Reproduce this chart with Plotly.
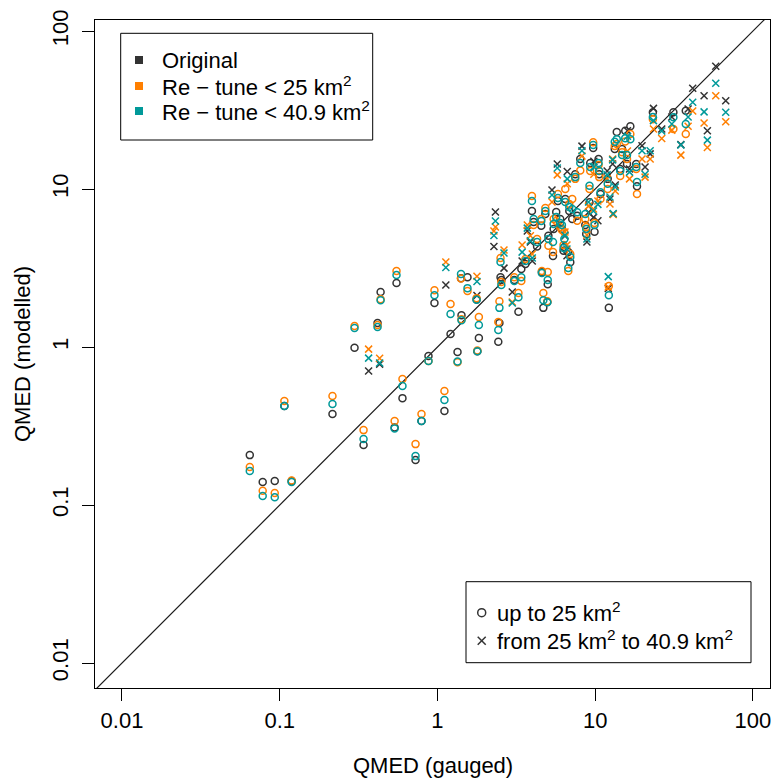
import plotly.graph_objects as go

# QMED (m3/s) per catchment: gauged value and three modelled estimates
gauged = [
    0.0646, 0.078, 0.093, 0.119, 0.107, 0.216, 0.34, 0.298, 0.436, 0.417,
    0.366, 0.43, 0.55, 0.6, 0.726, 0.535, 0.792, 1.107, 0.877, 0.957,
    1.13, 1.21, 1.42, 1.34, 1.41, 1.55, 1.78, 1.77, 1.83, 1.79,
    2.33, 2.28, 2.64, 2.51, 2.54, 2.47, 2.43, 2.98, 3.26, 4.69, 4.97,
    3.44, 3.40, 3.07, 4.59, 5.0, 5.40, 3.97, 4.07, 3.88, 3.99, 3.61,
    5.32, 5.75, 6.65,
    8.24, 8.04, 9.71, 9.8, 10.5, 10.6, 11.9,
    9.30, 6.46, 5.8, 6.85, 7.15, 6.0, 8.86, 8.77, 9.9, 6.43, 6.75, 6.37,
    13.0, 12.1, 12.2, 10.4, 9.07, 7.69, 8.65, 12.4, 13.4,
    13.7, 13.3, 12.9, 14.8, 16.0, 16.7, 15.9, 16.5, 18.4, 18.2, 19.8, 22.3, 20.7, 14.4, 12.0,
    23.4, 23.2, 26.4, 31.3, 37.5, 34.9, 41.5, 30.6, 38.8,
    58.1, 49.0, 67.2, 51.4,
    4.55, 5.45, 6.15, 5.05, 4.28, 6.30, 6.62, 6.95, 9.75,
    15.5, 9.2, 10.8, 7.47, 4.83, 5.66, 3.71,
]

qmed_original = [
    0.207, 0.14, 0.142, 0.142, 0.423, 0.377, 0.24, 0.99, 2.23, 1.42,
    0.705, 0.78, 2.54, 0.475, 0.193, 0.31, 0.34, 0.394, 0.877, 1.90,
    2.47, 1.21, 1.59, 0.93, 2.73, 2.77, 2.12, 2.00, 1.14, 0.94,
    7.15, 4.33, 3.16, 2.77, 2.66, 1.42, 1.08, 2.23, 1.67, 1.77, 1.93,
    3.50, 3.12, 2.66, 2.98, 2.50, 3.77, 7.26, 6.18, 4.62, 3.50, 3.35,
    9.86, 14.4, 12.9,
    18.7, 15.5, 18.2, 15.0, 15.5, 12.4, 13.0,
    14.6, 8.65, 8.40, 7.26, 6.46, 6.46, 4.62, 5.19, 5.37, 5.04, 3.99, 4.30,
    6.95, 2.35, 1.77, 6.3, 7.12, 6.78, 5.92, 8.65, 10.6,
    23.0, 17.9, 14.4, 17.9, 23.4, 25.0, 14.4, 13.4, 10.4, 14.4, 18.8, 16.7, 13.8, 13.4, 11.6,
    32.4, 30.6, 24.0, 30.6, 31.3, 19.1, 43.4, 28.6, 32.1,
    59.8, 39.0, 36.2, 23.4,
    5.86, 5.58, 5.58, 5.06, 4.33, 4.07, 3.78, 3.44, 6.62,
    23.4, 8.24, 9.30, 12.4, 6.95, 7.15, 5.42,
]

qmed_retune_25 = [
    0.174, 0.123, 0.119, 0.143, 0.455, 0.49, 0.298, 1.36, 2.01, 1.38,
    0.97, 0.85, 3.03, 0.627, 0.243, 0.34, 0.377, 0.527, 0.815, 2.29,
    3.45, 1.87, 1.50, 0.80, 2.72, 2.26, 2.81, 2.04, 1.55, 0.95,
    5.75, 5.42, 4.11, 3.66, 2.58, 1.95, 1.44, 1.93, 2.20, 2.20, 1.95,
    4.42, 2.62, 2.77, 3.03, 2.98, 3.99, 9.03, 5.92, 5.06, 3.88, 3.61,
    8.27, 12.3, 10.8,
    16.2, 13.1, 19.8, 12.4, 14.2, 11.9, 11.6,
    13.0, 10.0, 9.30, 8.04, 8.65, 5.75, 5.12, 5.75, 6.10, 5.35, 3.03, 5.35,
    6.9, 2.40, 2.43, 8.4, 7.80, 6.30, 6.46, 8.04, 9.71,
    19.3, 18.7, 15.5, 17.1, 17.4, 22.3, 15.5, 11.6, 9.30, 13.4, 15.5, 15.5, 11.9, 12.1, 10.0,
    24.0, 27.7, 20.9, 24.0, 22.3, 16.4, 31.2, 23.6, 25.0,
    39.0, 26.2, 26.7, 18.3,
    6.46, 6.46, 5.5, 4.38, 4.83, 4.42, 4.42, 3.88, 7.47,
    20.0, 10.0, 8.65, 11.6, 7.58, 6.27, 5.92,
]

qmed_retune_409 = [
    0.164, 0.114, 0.112, 0.14, 0.423, 0.436, 0.262, 1.32, 1.98, 1.34,
    0.851, 0.792, 2.86, 0.566, 0.204, 0.305, 0.34, 0.462, 0.815, 2.13,
    3.19, 1.62, 1.48, 0.81, 2.90, 2.36, 2.60, 1.99, 1.38, 0.94,
    6.27, 5.08, 3.94, 3.45, 2.47, 1.77, 1.28, 1.90, 2.07, 1.98, 1.92,
    3.99, 2.77, 2.62, 2.94, 2.66, 4.62, 8.40, 6.46, 4.71, 3.66, 3.50,
    9.17, 13.6, 11.6,
    17.5, 14.6, 19.0, 13.8, 14.6, 13.0, 12.3,
    13.8, 8.27, 8.77, 7.69, 7.47, 6.10, 4.83, 5.58, 5.92, 5.1, 3.16, 4.83,
    7.0, 2.79, 2.13, 8.0, 8.27, 7.12, 6.95, 8.9, 10.3,
    20.7, 19.9, 15.3, 16.4, 21.6, 20.7, 16.4, 12.8, 11.1, 13.8, 17.5, 17.5, 12.4, 13.0, 10.8,
    27.1, 28.6, 23.3, 28.5, 25.8, 19.0, 35.4, 25.8, 28.6,
    46.7, 30.8, 30.6, 20.4,
    6.27, 6.0, 5.92, 4.83, 4.62, 4.23, 4.17, 3.71, 7.26,
    21.0, 10.5, 9.53, 11.9, 7.26, 6.65, 5.66,
]

# catchment area class: "S" = up to 25 km2, "L" = 25 to 40.9 km2
area_class = (
    list("SSSSSSSSSS")
    + list("LLSSSSSSSS")
    + list("LSSSSSLSSS")
    + list("LLLSSSSLSSS")
    + list("LSSSSSSSLLS")
    + list("LLL")
    + list("LSSLSSL")
    + list("SSSSSSLSSLSS")
    + list("LLSLLSSLL")
    + list("SSLSLSSLSSLLLSS")
    + list("LSLSSLLLL")
    + list("LLLL")
    + list("SSSSSSLSL")
    + list("SSSSSSL")
)

series_names = ["Original", "Re \u2212 tune < 25 km<sup>2</sup>", "Re \u2212 tune < 40.9 km<sup>2</sup>"]
series_values = [qmed_original, qmed_retune_25, qmed_retune_409]
series_colors = ["#333333", "#ff7f00", "#009999"]
class_labels = ["up to 25 km<sup>2</sup>", "from 25 km<sup>2</sup> to 40.9 km<sup>2</sup>"]

tick_vals = [0.01, 0.1, 1, 10, 100]
tick_text = ["0.01", "0.1", "1", "10", "100"]

FONT = "Liberation Sans, Arial, Helvetica, sans-serif"
FS = 22

symbols = ["circle-open" if c == "S" else "x-thin-open" for c in area_class]

fig = go.Figure()

# 1:1 line
fig.add_trace(go.Scatter(
    x=[1e-3, 1e3], y=[1e-3, 1e3], mode="lines",
    line=dict(color="#1a1a1a", width=1.2), hoverinfo="skip", showlegend=False,
))

for name, vals, col in zip(series_names, series_values, series_colors):
    fig.add_trace(go.Scatter(
        x=gauged, y=vals, mode="markers", name=name, showlegend=False,
        marker=dict(symbol=symbols, size=7, color=col,
                    line=dict(color=col, width=1.5)),
    ))

# plot area in figure pixels
L, R, T, B = 95, 770, 20, 688


def fx(p):
    return (p - L) / (R - L)


def fy(p):
    return (B - p) / (B - T)


shapes = []
annotations = []

# colour legend (top left)
shapes.append(dict(type="rect", xref="paper", yref="paper",
                   x0=fx(120.7), x1=fx(372.7), y0=fy(140), y1=fy(33.3),
                   line=dict(color="black", width=1), fillcolor="white", layer="above"))
for name, col, yc in zip(series_names, series_colors, [60, 86, 111]):
    shapes.append(dict(type="rect", xref="paper", yref="paper",
                       x0=fx(135), x1=fx(143), y0=fy(yc + 4), y1=fy(yc - 4),
                       line=dict(width=0), fillcolor=col, layer="above"))
    annotations.append(dict(xref="paper", yref="paper", x=fx(160), y=fy(yc),
                            xanchor="left", yanchor="middle", showarrow=False,
                            text=name, font=dict(family=FONT, size=FS, color="black")))

# symbol legend (bottom right)
shapes.append(dict(type="rect", xref="paper", yref="paper",
                   x0=fx(466), x1=fx(751), y0=fy(662.7), y1=fy(581.7),
                   line=dict(color="black", width=1), fillcolor="white", layer="above"))
shapes.append(dict(type="circle", xref="paper", yref="paper",
                   x0=fx(477.7), x1=fx(485.7), y0=fy(616.7), y1=fy(608.7),
                   line=dict(color="#333333", width=1.5), layer="above"))
for (a, b, c, d) in [(477.7, 636.7, 485.7, 644.7), (477.7, 644.7, 485.7, 636.7)]:
    shapes.append(dict(type="line", xref="paper", yref="paper",
                       x0=fx(a), y0=fy(b), x1=fx(c), y1=fy(d),
                       line=dict(color="#333333", width=1.5), layer="above"))
for lab, yc in zip(class_labels, [612, 640]):
    annotations.append(dict(xref="paper", yref="paper", x=fx(495), y=fy(yc),
                            xanchor="left", yanchor="middle", showarrow=False,
                            text=lab, font=dict(family=FONT, size=FS, color="black")))

# axis titles
annotations.append(dict(xref="paper", yref="paper", x=fx((L + R) / 2), y=fy(765),
                        xanchor="center", yanchor="middle", showarrow=False,
                        text="QMED (gauged)", font=dict(family=FONT, size=FS, color="black")))
annotations.append(dict(xref="paper", yref="paper", x=fx(22), y=fy((T + B) / 2),
                        xanchor="center", yanchor="middle", showarrow=False, textangle=-90,
                        text="QMED (modelled)", font=dict(family=FONT, size=FS, color="black")))

axis_common = dict(
    type="log", showgrid=False, zeroline=False,
    showline=True, linecolor="black", linewidth=1, mirror=True,
    ticks="outside", ticklen=12, tickwidth=1, tickcolor="black",
    tickvals=tick_vals, ticktext=tick_text, ticklabeloverflow="allow",
    tickfont=dict(family=FONT, size=FS, color="black"),
)

fig.update_layout(
    width=771, height=778,
    margin=dict(l=L, r=771 - R, t=T, b=778 - B, pad=0),
    paper_bgcolor="white", plot_bgcolor="white",
    showlegend=False,
    xaxis=dict(range=[-2.171, 2.108], ticklabelstandoff=1, **axis_common),
    yaxis=dict(range=[-2.158, 2.070], tickangle=-90, ticklabelstandoff=5, **axis_common),
    shapes=shapes, annotations=annotations,
)

fig.write_html("out.html")
